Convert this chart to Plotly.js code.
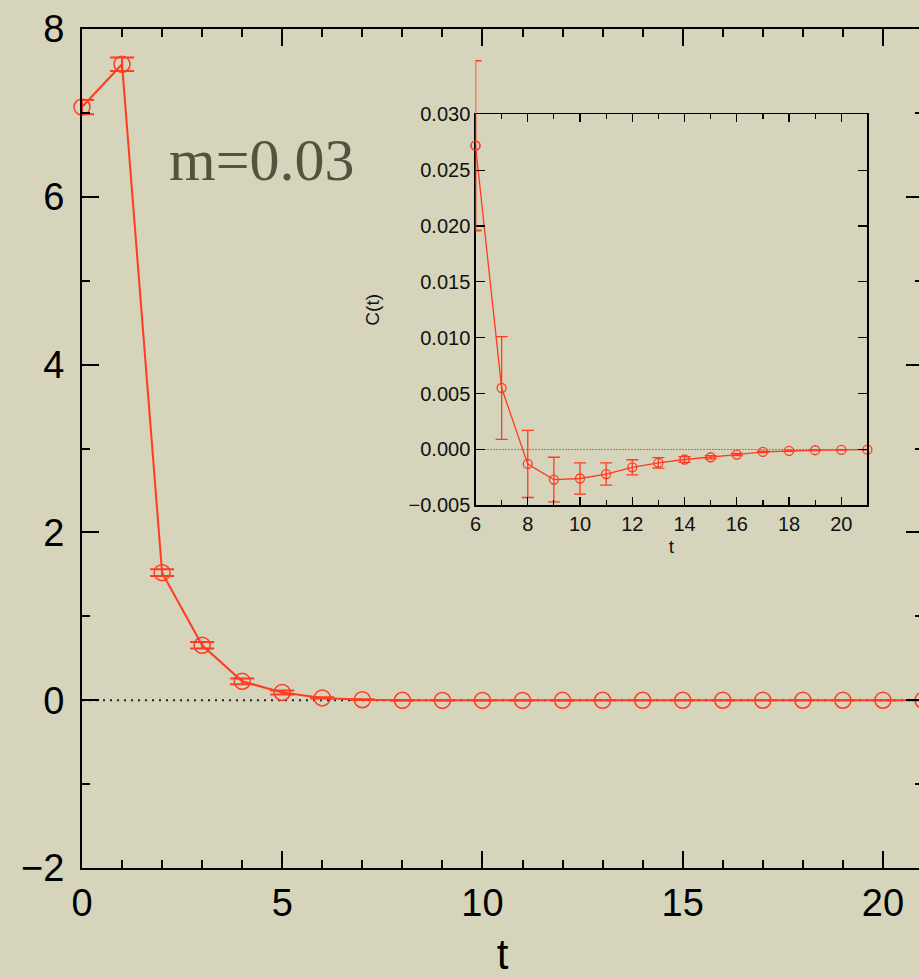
<!DOCTYPE html>
<html>
<head>
<meta charset="utf-8">
<script src="https://cdn.plot.ly/plotly-3.0.1.min.js"></script>
<style>
html, body { margin:0; padding:0; overflow:hidden; background:#d6d4bb; }
#chart { width:923px; height:978px; }
</style>
</head>
<body>
<div id="chart"></div>
<script>
// ---- data ----
var tValues = [0,1,2,3,4,5,6,7,8,9,10,11,12,13,14,15,16,17,18,19,20,21];
var cValues = [7.07, 7.58, 1.52, 0.655, 0.225, 0.092, 0.0272, 0.0055, -0.0013, -0.0027,
               -0.0026, -0.0022, -0.0016, -0.0012, -0.0009, -0.0007, -0.00046, -0.00022,
               -0.00013, -0.00007, -0.00004, -0.00002];
var cErrors = [0.085, 0.08, 0.04, 0.04, 0.035, 0.025, 0.0076, 0.0046, 0.003, 0.002,
               0.0014, 0.001, 0.00068, 0.00047, 0.00025, 0.00015, 0.0001, 0.00006,
               0.00004, 0.00003, 0.00002, 0.00001];
var insetStart = 6;           // inset shows t >= 6
var insetYRange = [-0.005, 0.030];
var annotationText = 'm=0.03';

var RED = '#ff3b22';
var FONT = 'Liberation Sans, Arial, Helvetica, sans-serif';

var idx0 = tValues.indexOf(insetStart);
var tInset = tValues.slice(idx0);
var cInset = cValues.slice(idx0);
var eInset = cErrors.slice(idx0);

// inset placement (paper fractions)
var insetXDomain = [0.4679, 0.9339];
var insetYDomain = [0.4323, 0.8983];
// an invisible overlay axis with the same scale as the inset y axis but taller,
// so the first error bar can extend above the inset frame as in the original
var overlayTop = 1.0;
var perDomain = (insetYRange[1] - insetYRange[0]) / (insetYDomain[1] - insetYDomain[0]);
var overlayYRange = [insetYRange[0], insetYRange[0] + perDomain * (overlayTop - insetYDomain[0])];

var mainTrace = {
  x: tValues, y: cValues, type: 'scatter', mode: 'lines+markers',
  line: {color: RED, width: 2},
  marker: {symbol: 'circle-open', size: 16, color: RED, line: {width: 1.5, color: RED}},
  error_y: {type: 'data', array: cErrors, visible: true, color: RED, thickness: 2, width: 12},
  cliponaxis: false, hoverinfo: 'skip', showlegend: false
};

var insetTrace = {
  x: tInset, y: cInset, type: 'scatter', mode: 'lines+markers',
  xaxis: 'x2', yaxis: 'y2',
  line: {color: RED, width: 1.3},
  marker: {symbol: 'circle-open', size: 9, color: RED, line: {width: 1.3, color: RED}},
  error_y: {type: 'data', array: eInset, visible: true, color: RED, thickness: 1.3, width: 6},
  cliponaxis: false, hoverinfo: 'skip', showlegend: false
};

var overlayTrace = {
  x: [tInset[0]], y: [cInset[0]], type: 'scatter', mode: 'markers',
  xaxis: 'x3', yaxis: 'y3',
  marker: {symbol: 'circle-open', size: 9, color: RED, line: {width: 1.3, color: RED}},
  error_y: {type: 'data', array: [eInset[0]], visible: true, color: RED, thickness: 1.6, width: 6},
  cliponaxis: false, hoverinfo: 'skip', showlegend: false
};

var layout = {
  width: 923, height: 978,
  margin: {l: 82, r: 0, t: 29, b: 110, pad: 0},
  paper_bgcolor: '#d6d4bb', plot_bgcolor: 'rgba(0,0,0,0)',
  font: {family: FONT, color: '#000'},
  xaxis: {
    domain: [0, 1], range: [0, 21], anchor: 'y',
    showline: true, linecolor: '#000', linewidth: 2, mirror: 'ticks',
    ticks: 'inside', ticklen: 17, tickwidth: 2, tickcolor: '#000',
    tick0: 0, dtick: 5,
    minor: {dtick: 1, ticks: 'inside', ticklen: 8, tickwidth: 2, tickcolor: '#000', showgrid: false},
    showgrid: false, zeroline: false,
    tickfont: {size: 38, family: FONT, color: '#000'},
    title: {text: 't', font: {size: 42, family: FONT, color: '#000'}, standoff: 24}
  },
  yaxis: {
    domain: [0, 1], range: [-2, 8], anchor: 'x',
    showline: true, linecolor: '#000', linewidth: 2, mirror: 'ticks',
    ticks: 'inside', ticklen: 17, tickwidth: 2, tickcolor: '#000',
    tick0: 0, dtick: 2,
    minor: {dtick: 1, ticks: 'inside', ticklen: 8, tickwidth: 2, tickcolor: '#000', showgrid: false},
    showgrid: false, zeroline: false,
    tickfont: {size: 38, family: FONT, color: '#000'},
    ticklabelstandoff: 8
  },
  xaxis2: {
    domain: insetXDomain, range: [insetStart, 21], anchor: 'y2',
    showline: true, linecolor: '#000', linewidth: 1.2, mirror: 'ticks',
    ticks: 'inside', ticklen: 8, tickwidth: 1.2, tickcolor: '#000',
    tick0: 6, dtick: 2,
    minor: {dtick: 1, ticks: 'inside', ticklen: 5, tickwidth: 1.2, tickcolor: '#000', showgrid: false},
    showgrid: false, zeroline: false,
    tickfont: {size: 20, family: FONT, color: '#111'},
    title: {text: 't', font: {size: 19, family: FONT, color: '#111'}, standoff: 6}
  },
  yaxis2: {
    domain: insetYDomain, range: insetYRange, anchor: 'x2',
    showline: true, linecolor: '#000', linewidth: 1.2, mirror: 'ticks',
    ticks: 'inside', ticklen: 9, tickwidth: 1.2, tickcolor: '#000',
    tick0: 0, dtick: 0.005, tickformat: '.3f',
    showgrid: false, zeroline: false,
    tickfont: {size: 20, family: FONT, color: '#111'},
    title: {text: 'C(t)', font: {size: 19, family: FONT, color: '#111'}, standoff: 24}
  },
  xaxis3: {
    domain: insetXDomain, range: [insetStart, 21], anchor: 'y3', overlaying: 'x2',
    visible: false, showgrid: false, zeroline: false
  },
  yaxis3: {
    domain: [insetYDomain[0], overlayTop], range: overlayYRange, anchor: 'x3',
    visible: false, showgrid: false, zeroline: false
  },
  shapes: [
    {type: 'line', xref: 'paper', yref: 'y', x0: 0, x1: 1, y0: 0, y1: 0,
     line: {color: '#222', width: 2, dash: '2px,5px'}, layer: 'below'},
    {type: 'line', xref: 'x2 domain', yref: 'y2', x0: 0, x1: 1, y0: 0, y1: 0,
     line: {color: '#333', width: 1, dash: '1px,2px'}, layer: 'below'}
  ],
  annotations: [
    {xref: 'x', yref: 'y', x: 4.5, y: 6.44, text: annotationText, showarrow: false,
     font: {family: 'Liberation Serif, Times New Roman, serif', size: 60, color: '#55533d'},
     xanchor: 'center', yanchor: 'middle'}
  ]
};

Plotly.newPlot('chart', [mainTrace, insetTrace, overlayTrace], layout, {staticPlot: true, displayModeBar: false});
</script>
</body>
</html>
